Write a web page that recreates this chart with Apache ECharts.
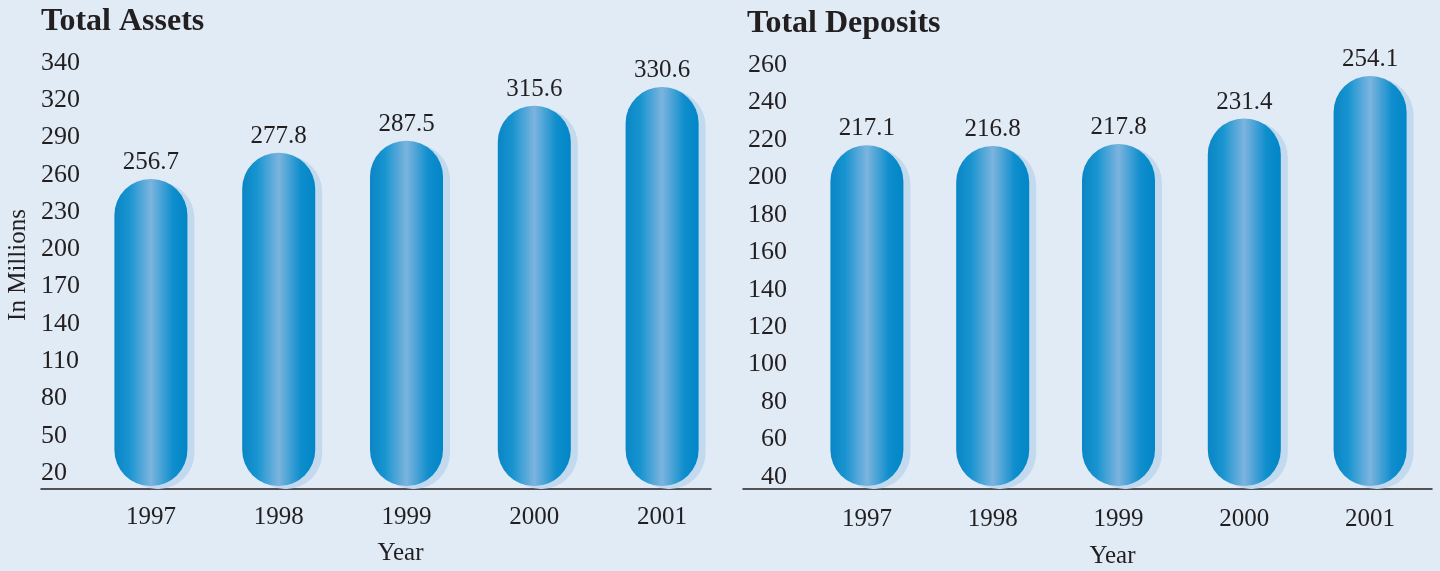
<!DOCTYPE html>
<html>
<head>
<meta charset="utf-8">
<script src="https://cdn.jsdelivr.net/npm/echarts@6/dist/echarts.min.js"></script>
<style>
  html, body { margin: 0; padding: 0; background: #e0ebf6; }
  #chart { width: 1440px; height: 571px; }
</style>
</head>
<body>
<div id="chart"></div>
<script>
// data
const years = ['1997', '1998', '1999', '2000', '2001'];
const assetValues = [256.7, 277.8, 287.5, 315.6, 330.6];
const depositValues = [217.1, 216.8, 217.8, 231.4, 254.1];

// tick labels (the top one of the assets chart is printed as 340)
const assetTickValues = [20, 50, 80, 110, 140, 170, 200, 230, 260, 290, 320, 350];
const assetTickLabels = ['20', '50', '80', '110', '140', '170', '200', '230', '260', '290', '320', '340'];
const depositTickValues = [40, 60, 80, 100, 120, 140, 160, 180, 200, 220, 240, 260];
const depositTickLabels = ['40', '60', '80', '100', '120', '140', '160', '180', '200', '220', '240', '260'];

const font = "'Liberation Serif', 'Times New Roman', serif";
const ink = '#231f20';

const barColor = new echarts.graphic.LinearGradient(0, 0, 1, 0, [
  { offset: 0, color: '#0a85c6' },
  { offset: 0.2, color: '#1794d0' },
  { offset: 0.5, color: '#7cb4de' },
  { offset: 0.8, color: '#0f8ecd' },
  { offset: 1, color: '#0086c7' }
]);

function barSeries (data, axisIndex) {
  return {
    type: 'bar',
    xAxisIndex: axisIndex,
    yAxisIndex: axisIndex,
    data: data,
    barWidth: 73,
    itemStyle: {
      color: barColor,
      borderRadius: 36,
      shadowColor: '#c3d9ee',
      shadowOffsetX: 7,
      shadowOffsetY: 3,
      shadowBlur: 0
    },
    label: {
      show: true,
      position: 'top',
      distance: 4,
      fontFamily: font,
      fontSize: 25,
      color: ink,
      formatter: p => p.value.toFixed(1)
    }
  };
}

function yearAxis (gridIndex, labelMargin, nameGap) {
  return {
    type: 'category',
    gridIndex: gridIndex,
    data: years,
    axisLine: { show: false },
    axisTick: { show: false },
    axisLabel: { margin: labelMargin, fontFamily: font, fontSize: 25, color: ink },
    name: 'Year',
    nameLocation: 'middle',
    nameGap: nameGap,
    nameTextStyle: { fontFamily: font, fontSize: 25, color: ink, padding: [0, 12, 0, 0] }
  };
}

function lineAxis (gridIndex) {
  return {
    type: 'value',
    gridIndex: gridIndex,
    min: 0,
    max: 1,
    axisLine: { show: true, lineStyle: { color: '#231f20', width: 1.5 } },
    axisTick: { show: false },
    axisLabel: { show: false },
    splitLine: { show: false }
  };
}

function hiddenY (gridIndex) {
  return { type: 'value', gridIndex: gridIndex, show: false, min: 0, max: 1 };
}

const chart = echarts.init(document.getElementById('chart'));
chart.setOption({
  backgroundColor: '#e0ebf6',
  animation: false,
  title: [
    { text: 'Total Assets', left: 41, top: 6, padding: 0, textStyle: { fontFamily: font, fontSize: 32, fontWeight: 'bold', color: ink } },
    { text: 'Total Deposits', left: 747, top: 8, padding: 0, textStyle: { fontFamily: font, fontSize: 32, fontWeight: 'bold', color: ink } }
  ],
  grid: [
    { left: 87, top: 63, width: 639, height: 423, outerBoundsMode: 'none' },
    { left: 41, top: 400, width: 670, height: 89, outerBoundsMode: 'none' },
    { left: 804, top: 65, width: 629, height: 421, outerBoundsMode: 'none' },
    { left: 743, top: 400, width: 689, height: 89, outerBoundsMode: 'none' }
  ],
  xAxis: [
    yearAxis(0, 19, 55),
    lineAxis(1),
    yearAxis(2, 21, 58),
    lineAxis(3)
  ],
  yAxis: [
    {
      type: 'value',
      gridIndex: 0,
      min: 9.54,
      max: 350,
      axisLine: { show: false },
      axisTick: { show: false },
      splitLine: { show: false },
      axisLabel: {
        customValues: assetTickValues,
        formatter: v => assetTickLabels[assetTickValues.indexOf(v)],
        align: 'left',
        margin: 46,
        fontFamily: font,
        fontSize: 26,
        color: ink
      },
      name: 'In Millions',
      nameLocation: 'middle',
      nameRotate: 90,
      nameGap: 56,
      nameTextStyle: { fontFamily: font, fontSize: 25, color: ink, padding: [0, 0, 0, 19] }
    },
    hiddenY(1),
    {
      type: 'value',
      gridIndex: 2,
      min: 35.2,
      max: 260,
      axisLine: { show: false },
      axisTick: { show: false },
      splitLine: { show: false },
      axisLabel: {
        customValues: depositTickValues,
        formatter: v => depositTickLabels[depositTickValues.indexOf(v)],
        margin: 17,
        fontFamily: font,
        fontSize: 26,
        color: ink
      }
    },
    hiddenY(3)
  ],
  series: [
    barSeries(assetValues, 0),
    barSeries(depositValues, 2)
  ]
});
</script>
</body>
</html>
